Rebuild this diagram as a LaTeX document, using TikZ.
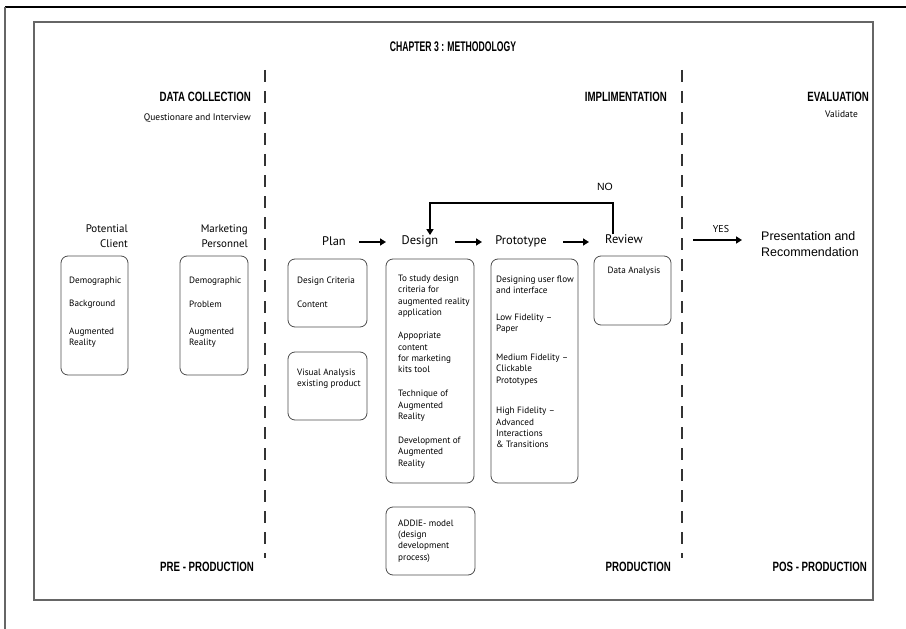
\documentclass[tikz,border=0pt]{standalone}
\usepackage{fontspec}
\setmainfont{Liberation Sans}
\newfontfamily\hfont{Liberation Sans}[FakeStretch=0.72]
\newfontfamily\tfont{Liberation Sans}[FakeStretch=0.62]
\newfontfamily\bfont{PT Sans}
\usetikzlibrary{arrows.meta}
\definecolor{frame}{gray}{0.4}
\definecolor{boxc}{gray}{0.3}
\tikzset{
  head/.style={font=\hfont\bfseries\fontsize{13.5}{15}\selectfont, inner sep=0pt},
  stage/.style={font=\bfont\fontsize{12.5}{14}\selectfont, inner sep=0pt},
  item/.style={font=\bfont\fontsize{9.2}{11.4}\selectfont, inner sep=0pt, anchor=west, align=left},
  sub/.style={font=\bfont\fontsize{9.5}{12}\selectfont, inner sep=0pt},
  rbox/.style={draw=boxc, line width=0.8pt, rounded corners=7bp, inner sep=0pt},
  flow/.style={line width=2pt, -{Triangle[length=6bp,width=7bp]}},
  sep/.style={line width=1.1pt, dash pattern=on 12bp off 9bp, draw=black!80}
}
\begin{document}
\begin{tikzpicture}[x=1bp,y=-1bp]
\useasboundingbox (0,0) rectangle (906,629);
% frames
\draw[line width=1.2pt] (5,7) -- (906,7);
\draw[frame, line width=1.5pt] (5,7) -- (5,629);
\draw[frame, line width=1.2pt] (34,22) rectangle (873,600);
% separators
\coordinate (s1a) at (265,70); \coordinate (s1b) at (265,558);
\coordinate (s2a) at (682,70); \coordinate (s2b) at (682,558);
\draw[sep] (s1a) -- (s1b);
\draw[sep] (s2a) -- (s2b);
% title & headings
\node[font=\tfont\bfseries\fontsize{14}{16}\selectfont, inner sep=0pt] (title) at (453,47) {CHAPTER 3 : METHODOLOGY};
\node[head, anchor=east] (dc) at (251,97) {DATA COLLECTION};
\node[sub, anchor=east] (qi) at (251,118) {Questionare and Interview};
\node[head, anchor=east] (impl) at (667,97) {IMPLIMENTATION};
\node[head, anchor=east] (eval) at (869,97) {EVALUATION};
\node[sub, anchor=east] (val) at (858,114) {Validate};
\node[head, anchor=east] (pre) at (254,567) {PRE - PRODUCTION};
\node[head, anchor=east] (prod) at (671,567) {PRODUCTION};
\node[head, anchor=east] (pos) at (867,567) {POS - PRODUCTION};
% data collection
\node[stage, anchor=east, align=right, font=\bfont\fontsize{11}{15}\selectfont] (pc) at (128,236) {Potential\\Client};
\node[stage, anchor=east, align=right, font=\bfont\fontsize{11}{15}\selectfont] (mp) at (248,236) {Marketing\\Personnel};
\node[rbox, minimum width=67bp, minimum height=119bp] (pcbox) at (94.5,315.5) {};
\node[rbox, minimum width=68bp, minimum height=119bp] (mpbox) at (214,315.5) {};
\node[item] (pc1) at (69,281) {Demographic};
\node[item] (pc2) at (69,304) {Background};
\node[item] (pc3) at (69,338) {Augmented\\Reality};
\node[item] (mp1) at (189,281) {Demographic};
\node[item] (mp2) at (189,304) {Problem};
\node[item] (mp3) at (189,338) {Augmented\\Reality};
% stages
\node[stage] (plan) at (334,241) {Plan};
\node[stage] (design) at (420,241) {Design};
\node[stage] (proto) at (521,241) {Prototype};
\node[stage] (review) at (624,239) {Review};
\coordinate (pa) at (359,242); \coordinate (pb) at (386,242);
\coordinate (da) at (455,242); \coordinate (db) at (482,242);
\coordinate (ra) at (563,242); \coordinate (rb) at (589,242);
\draw[flow] (pa) -- (pb);
\draw[flow] (da) -- (db);
\draw[flow] (ra) -- (rb);
% loop
\coordinate (l1) at (613,203);
\coordinate (l2) at (430,203);
\draw[line width=2.2pt, -{Triangle[length=6bp,width=7bp]}] (review.north -| l1) -- (l1) -- (l2) -- (design.north -| l2);
\node[font=\fontsize{10.5}{12}\selectfont, inner sep=0pt] (no) at (605,187) {NO};
% plan boxes
\node[rbox, minimum width=79bp, minimum height=68bp] (plan1) at (327.5,293) {};
\node[item] at (297,281) {Design Criteria};
\node[item] at (297,304) {Content};
\node[rbox, minimum width=79bp, minimum height=68bp] (plan2) at (327.5,386) {};
\node[item] at (297,378.5) {Visual Analysis\\existing product};
% design box
\node[rbox, minimum width=88bp, minimum height=224bp] (dbox) at (430,371) {};
\node[item] at (398,296) {To study design\\criteria for\\augmented reality\\application};
\node[item] at (398,352.5) {Appopriate\\content\\for marketing\\kits tool};
\node[item] at (398,406) {Technique of\\Augmented\\Reality};
\node[item] at (398,452.5) {Development of\\Augmented\\Reality};
% addie
\node[rbox, minimum width=89bp, minimum height=68bp] (abox) at (430.5,541) {};
\node[item] at (398,541) {ADDIE- model\\(design\\development\\process)};
% prototype box
\node[rbox, minimum width=87bp, minimum height=224bp] (pbox) at (534.5,371) {};
\node[item] at (496,284.5) {Designing user flow\\and interface};
\node[item] at (496,323.5) {Low Fidelity –\\Paper};
\node[item] at (496,369.5) {Medium Fidelity –\\Clickable\\Prototypes};
\node[item] at (496,427.5) {High Fidelity –\\Advanced\\Interactions\\\& Transitions};
% review box
\node[rbox, minimum width=77bp, minimum height=69bp] (rbx) at (632.5,290.5) {};
\node[item, anchor=center] at (634,271) {Data Analysis};
% evaluation
\node[font=\bfont\fontsize{10}{12}\selectfont, inner sep=0pt] (yes) at (721,229) {YES};
\coordinate (ya) at (693,240);
\coordinate (yb) at (742,240);
\draw[flow] (ya) -- (yb);
\node[font=\fontsize{12.5}{16}\selectfont, inner sep=0pt, anchor=west, align=left] (pres) at (761,244) {Presentation and\\Recommendation};
\end{tikzpicture}
\end{document}
